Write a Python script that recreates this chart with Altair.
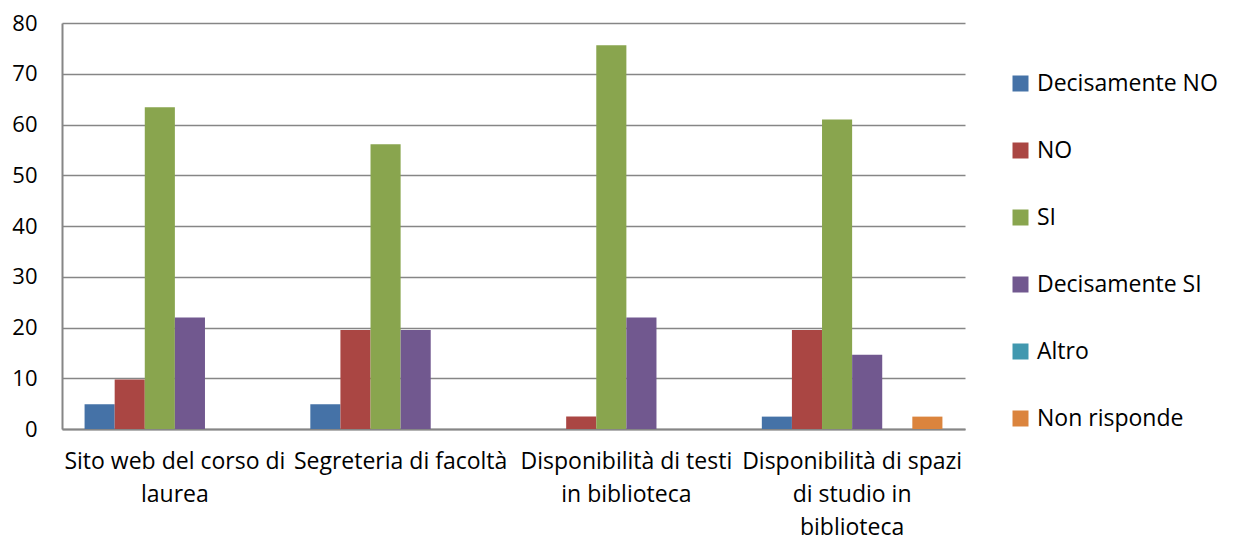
import altair as alt
import pandas as pd

categories = [
    "Sito web del corso di\nlaurea",
    "Segreteria di facoltà",
    "Disponibilità di testi\nin biblioteca",
    "Disponibilità di spazi\ndi studio in\nbiblioteca",
]
series = ["Decisamente NO", "NO", "SI", "Decisamente SI", "Altro", "Non risponde"]
colors = ["#4572A7", "#AA4643", "#89A54E", "#71588F", "#4198AF", "#DB843D"]

dec_no = [4.88, 4.88, 0.0, 2.44]
no = [9.76, 19.51, 2.44, 19.51]
si = [63.41, 56.10, 75.61, 60.98]
dec_si = [21.95, 19.51, 21.95, 14.63]
altro = [0.0, 0.0, 0.0, 0.0]
non_risponde = [0.0, 0.0, 0.0, 2.44]

values = [dec_no, no, si, dec_si, altro, non_risponde]
rows = []
for s, vals in zip(series, values):
    for c, v in zip(categories, vals):
        rows.append({"cat": c, "serie": s, "val": v})
df = pd.DataFrame(rows)

FONT = "Open Sans"

chart = alt.Chart(df).mark_bar().encode(
    x=alt.X("cat:N", sort=categories, title=None,
            scale=alt.Scale(paddingInner=0.2, paddingOuter=0.1),
            axis=alt.Axis(labelAngle=0, labelExpr="split(datum.label, '\\n')",
                          labelFontSize=23, labelLineHeight=33, labelPadding=21,
                          labelLimit=400, labelColor="#000000", labelFont=FONT,
                          ticks=False, domainColor="#868686", domainWidth=2,
                          labelOverlap=False)),
    xOffset=alt.XOffset("serie:N", sort=series, scale=alt.Scale(paddingInner=0, paddingOuter=0)),
    y=alt.Y("val:Q", title=None,
            scale=alt.Scale(domain=[0, 80]),
            axis=alt.Axis(values=[0, 10, 20, 30, 40, 50, 60, 70, 80], labelFontSize=22,
                          labelColor="#000000", labelFont=FONT, ticks=False,
                          domainColor="#868686", domainWidth=2, labelPadding=25,
                          gridColor="#868686", gridWidth=1.5)),
    color=alt.Color("serie:N", sort=series,
                    scale=alt.Scale(domain=series, range=colors),
                    legend=alt.Legend(title=None, orient="none", legendX=947, legendY=49,
                                      symbolType="square", symbolSize=256,
                                      symbolStrokeWidth=0, labelFontSize=23,
                                      labelFont=FONT, labelColor="#000000",
                                      labelOffset=5,
                                      rowPadding=43, labelLimit=300)),
).properties(
    width=903, height=406,
    autosize=alt.AutoSizeParams(type="none"),
    padding={"left": 54, "top": 15, "right": 260, "bottom": 108},
).configure_view(stroke=None)

chart.save("out.html", embed_options={"renderer": "svg", "actions": False})
